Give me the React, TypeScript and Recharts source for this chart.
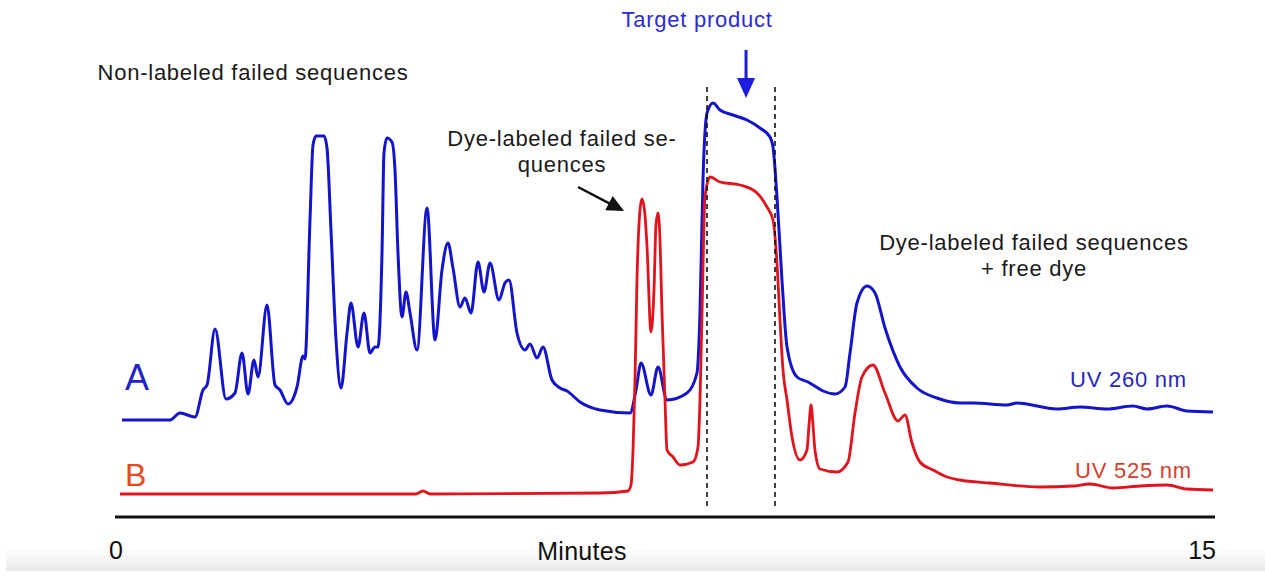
import { LineChart, Line, XAxis, YAxis, ReferenceLine, ReferenceDot } from "recharts";

const BLUE = "#1414cc";
const RED = "#e0141c";
const FONT = "'Liberation Sans', Arial, sans-serif";

const uv260: [number, number][] = [
  [0.095, 19.4], [0.75, 19.4], [0.886, 20.8], [1.091, 20], [1.2, 25.4], [1.255, 26.4],
  [1.364, 37.6], [1.514, 23.6], [1.636, 24.8], [1.732, 32.8], [1.814, 24.6], [1.895, 31.4],
  [1.95, 28], [2.073, 42.4], [2.182, 26.4], [2.25, 25.4], [2.359, 22.6], [2.482, 26],
  [2.564, 32.2], [2.591, 31.6], [2.659, 59.4], [2.7, 74.4], [2.741, 76.2], [2.85, 76.2],
  [2.891, 73.8], [2.945, 57.4], [3.014, 35.4], [3.082, 25.8], [3.164, 36.8], [3.218, 42.8],
  [3.314, 34], [3.395, 40.8], [3.477, 32.8], [3.545, 34], [3.586, 34], [3.641, 52.8],
  [3.668, 72.8], [3.709, 75.8], [3.777, 75], [3.818, 69.4], [3.859, 52.8], [3.914, 40],
  [3.968, 45], [4.023, 40.8], [4.118, 33.4], [4.255, 61.8], [4.364, 35.4], [4.459, 49.4],
  [4.541, 54.8], [4.609, 49.8], [4.705, 42], [4.773, 43.8], [4.855, 40.8], [4.95, 51],
  [5.032, 45], [5.114, 50.8], [5.236, 43.4], [5.318, 46.8], [5.373, 47.4], [5.482, 36.8],
  [5.591, 33.4], [5.659, 34.6], [5.755, 31.8], [5.836, 34], [5.959, 27.4], [6.068, 25.8],
  [6.164, 25.2], [6.341, 23], [6.614, 21.4], [7.023, 20.8], [7.105, 25.4], [7.173, 30.8],
  [7.309, 24.4], [7.405, 30], [7.527, 23.4], [7.8, 24.8], [7.936, 28.8], [7.977, 40.8],
  [8.018, 67.4], [8.073, 80.8], [8.155, 82.8], [8.25, 81.4], [8.427, 80.4], [8.618, 79.4],
  [8.795, 77.8], [8.932, 76], [8.973, 74], [9.027, 64], [9.095, 47.4], [9.164, 34],
  [9.3, 28], [9.45, 27], [9.518, 26.4], [9.655, 25.2], [9.818, 24.6], [9.955, 26],
  [10.023, 32.8], [10.118, 42.8], [10.255, 46.2], [10.364, 44.8], [10.5, 37.8], [10.705, 30],
  [10.936, 25.8], [11.209, 23.8], [11.523, 22.8], [11.7, 22.8], [12.164, 22.4], [12.3, 22.8],
  [12.845, 21.6], [13.159, 22], [13.527, 21.6], [13.882, 22.2], [14.073, 21.6], [14.345, 22.2],
  [14.618, 21.2], [14.973, 21],
];

const uv525: [number, number][] = [
  [0.068, 4.6], [3.886, 4.6], [4.1, 4.6], [4.2, 5.2], [4.3, 4.6], [6.614, 4.8],
  [6.995, 5.2], [7.036, 6.4], [7.064, 13.4], [7.091, 27.4], [7.118, 47.4], [7.159, 61.4],
  [7.186, 63.6], [7.227, 60.4], [7.255, 54], [7.309, 37], [7.35, 45.4], [7.377, 58.4],
  [7.405, 60.8], [7.432, 55.4], [7.459, 40.8], [7.5, 23.4], [7.527, 13.4], [7.609, 12],
  [7.705, 10.4], [7.882, 11], [7.95, 14], [7.977, 23.4], [8.005, 40.8], [8.045, 64],
  [8.114, 68], [8.25, 67], [8.523, 66.4], [8.755, 64.8], [8.891, 62], [8.973, 59.4],
  [9.027, 50.8], [9.068, 39.4], [9.109, 29.4], [9.164, 23.4], [9.232, 16], [9.341, 11.4],
  [9.436, 13.4], [9.464, 18.4], [9.491, 22.4], [9.518, 18.4], [9.545, 13.4], [9.614, 9.6],
  [9.845, 9], [9.995, 11], [10.091, 20.8], [10.186, 28], [10.336, 30.4], [10.5, 24.8],
  [10.677, 19.2], [10.773, 20.4], [10.868, 14.8], [10.977, 11], [11.155, 9.4], [11.345, 8],
  [11.523, 7.4], [11.932, 6.8], [12.614, 6], [13.064, 6.2], [13.295, 6.6], [13.609, 5.8],
  [13.977, 6.2], [14.345, 6.4], [14.618, 5.6], [14.973, 5.4],
];

const xTicks = [0, 15];

// collected fraction (dashed cut lines), minutes
const cuts = [8.073, 9.0];

type Note = { text: string; t: number; v: number; color: string; size: number; anchor: "start" | "middle" | "end"; spacing: number };

const notes: Note[] = [
  { text: "Target product", t: 7.936, v: 98, color: "#2b2bd6", size: 22, anchor: "middle", spacing: 0.75 },
  { text: "Non-labeled failed sequences", t: 1.882, v: 87.4, color: "#1a1a1a", size: 22, anchor: "middle", spacing: 0.75 },
  { text: "Dye-labeled failed se-", t: 6.095, v: 74.2, color: "#1a1a1a", size: 22, anchor: "middle", spacing: 0.75 },
  { text: "quences", t: 6.095, v: 69, color: "#1a1a1a", size: 22, anchor: "middle", spacing: 0.75 },
  { text: "Dye-labeled failed sequences", t: 12.532, v: 53.4, color: "#1a1a1a", size: 22, anchor: "middle", spacing: 0.75 },
  { text: "+ free dye", t: 12.532, v: 48.2, color: "#1a1a1a", size: 22, anchor: "middle", spacing: 0.75 },
  { text: "A", t: 0.136, v: 25.4, color: "#2222cc", size: 36, anchor: "start", spacing: 0 },
  { text: "B", t: 0.136, v: 6.2, color: "#e8491d", size: 32, anchor: "start", spacing: 0 },
  { text: "UV 260 nm", t: 13.023, v: 26, color: "#2626c0", size: 22, anchor: "start", spacing: 0.75 },
  { text: "UV 525 nm", t: 13.091, v: 7.8, color: "#d5402e", size: 22, anchor: "start", spacing: 0.75 },
  { text: "Minutes", t: 6.368, v: -8.6, color: "#111", size: 25, anchor: "middle", spacing: 0.3 },
];

const arrows = [
  { from: [8.605, 93.4], to: [8.605, 83.8], color: "#1c1ce0", width: 3, head: 20, half: 9 },
  { from: [6.314, 66], to: [6.941, 61.2], color: "#111", width: 2.5, head: 17, half: 8 },
];

const toRows = (pts: [number, number][]) => pts.map(([t, v]) => ({ t, v }));

function arrowShape(color: string, width: number, head: number, half: number) {
  return (p: any) => {
    const dx = p.x2 - p.x1;
    const dy = p.y2 - p.y1;
    const len = Math.hypot(dx, dy) || 1;
    const ux = dx / len;
    const uy = dy / len;
    const bx = p.x2 - ux * head;
    const by = p.y2 - uy * head;
    return (
      <g>
        <line x1={p.x1} y1={p.y1} x2={bx + ux * 2} y2={by + uy * 2} stroke={color} strokeWidth={width} />
        <polygon
          points={`${p.x2},${p.y2} ${bx - uy * half},${by + ux * half} ${bx + uy * half},${by - ux * half}`}
          fill={color}
        />
      </g>
    );
  };
}

function AxisTick(props: any) {
  const { x, y, payload } = props;
  const last = payload.value === 15;
  return (
    <text
      x={x + 1}
      y={y}
      dy={34}
      textAnchor={last ? "end" : "middle"}
      fontFamily={FONT}
      fontSize={25}
      fill="#111"
    >
      {payload.value}
    </text>
  );
}

export default function App() {
  return (
    <div style={{ position: "absolute", left: 0, top: 0, width: 1265, height: 583, background: "#fff" }}>
      <div
        style={{
          position: "absolute",
          left: 6,
          top: 548,
          width: 1259,
          height: 23,
          background: "linear-gradient(#ffffff, #e8e8e8)",
        }}
      />
      <div style={{ position: "absolute", left: 0, top: 0 }}>
        <LineChart width={1265} height={583} margin={{ top: 17, right: 50, bottom: 36, left: 115 }}>
          <XAxis
            type="number"
            dataKey="t"
            domain={[0, 15]}
            ticks={xTicks}
            allowDataOverflow
            tickLine={false}
            axisLine={{ stroke: "#111", strokeWidth: 3 }}
            tick={<AxisTick />}
          />
          <YAxis type="number" domain={[0, 100]} hide allowDataOverflow />
          <Line
            data={toRows(uv260)}
            dataKey="v"
            type="monotone"
            stroke={BLUE}
            strokeWidth={3}
            dot={false}
            isAnimationActive={false}
          />
          <Line
            data={toRows(uv525)}
            dataKey="v"
            type="monotone"
            stroke={RED}
            strokeWidth={2.8}
            dot={false}
            isAnimationActive={false}
          />
          {cuts.map((c) => (
            <ReferenceLine
              key={c}
              segment={[{ x: c, y: 86 }, { x: c, y: 2.2 }]}
              stroke="#111"
              strokeWidth={1.6}
              strokeDasharray="5 4"
            />
          ))}
          {arrows.map((a, i) => (
            <ReferenceLine
              key={"arrow" + i}
              segment={[{ x: a.from[0], y: a.from[1] }, { x: a.to[0], y: a.to[1] }]}
              shape={arrowShape(a.color, a.width, a.head, a.half)}
            />
          ))}
          {notes.map((n) => (
            <ReferenceDot
              key={n.text}
              x={n.t}
              y={n.v}
              r={0}
              ifOverflow="visible"
              shape={(p: any) => (
                <text
                  x={p.cx}
                  y={p.cy}
                  textAnchor={n.anchor}
                  fontFamily={FONT}
                  fontSize={n.size}
                  letterSpacing={n.spacing}
                  fill={n.color}
                >
                  {n.text}
                </text>
              )}
            />
          ))}
        </LineChart>
      </div>
    </div>
  );
}
